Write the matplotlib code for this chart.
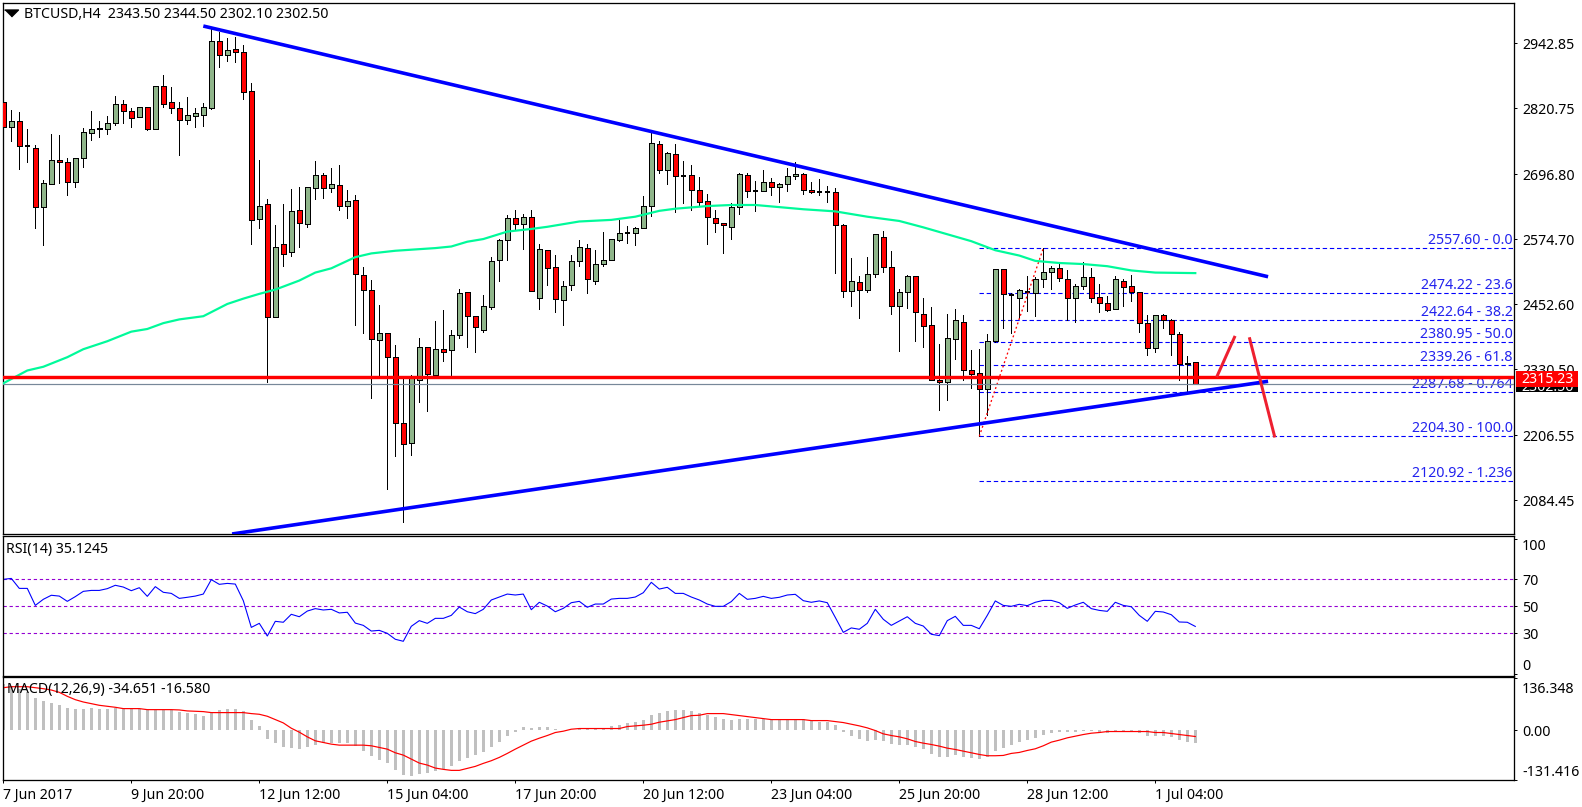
import matplotlib
matplotlib.use("Agg")
import matplotlib.pyplot as plt
from matplotlib.patches import Rectangle
from matplotlib.transforms import ScaledTranslation

plt.rcParams["font.family"] = "Noto Sans"

FONT = 10.2
PX = 0.72  # one pixel in points at dpi 100
WIDTH, HEIGHT = 1582, 807

open_prices = [
    2833, 2786, 2796, 2749, 2747, 2635, 2679, 2723, 2719, 2683,
    2727, 2775, 2782, 2782, 2794, 2828, 2815, 2804, 2823, 2782,
    2862, 2832, 2821, 2799, 2807, 2809, 2822, 2948, 2920, 2932,
    2926, 2853, 2612, 2640, 2428, 2565, 2550, 2629, 2604, 2670,
    2695, 2670, 2676, 2638, 2648, 2507, 2479, 2386, 2398, 2353,
    2229, 2191, 2310, 2373, 2320, 2368, 2366, 2394, 2475, 2430,
    2405, 2448, 2535, 2573, 2614, 2604, 2616, 2464, 2554, 2522,
    2461, 2488, 2533, 2558, 2497, 2529, 2535, 2574, 2587, 2586,
    2595, 2638, 2753, 2705, 2734, 2694, 2695, 2667, 2646, 2614,
    2606, 2597, 2635, 2696, 2666, 2666, 2682, 2672, 2679, 2693,
    2697, 2667, 2663, 2663, 2663, 2601, 2477, 2495, 2480, 2509,
    2578, 2522, 2450, 2475, 2505, 2435, 2413, 2311, 2306, 2388,
    2420, 2328, 2323, 2293, 2383, 2518, 2469, 2465, 2476, 2473,
    2499, 2514, 2520, 2499, 2464, 2486, 2503, 2467, 2454, 2443,
    2497, 2486, 2475, 2417, 2370, 2432, 2422, 2396, 2340, 2343.5,
]
high_prices = [
    2841, 2818, 2813, 2782, 2752, 2686, 2772, 2770, 2727, 2727,
    2783, 2816, 2797, 2806, 2844, 2836, 2822, 2823, 2823, 2862,
    2883, 2861, 2833, 2842, 2821, 2831, 2969, 2965, 2953, 2955,
    2940, 2868, 2724, 2650, 2601, 2641, 2669, 2673, 2672, 2722,
    2700, 2709, 2714, 2667, 2657, 2522, 2498, 2451, 2398, 2376,
    2313, 2320, 2390, 2373, 2421, 2442, 2404, 2481, 2475, 2430,
    2470, 2541, 2575, 2620, 2630, 2623, 2630, 2566, 2554, 2545,
    2496, 2545, 2573, 2565, 2554, 2588, 2576, 2611, 2600, 2597,
    2656, 2776, 2759, 2739, 2754, 2722, 2714, 2692, 2660, 2630,
    2606, 2642, 2699, 2700, 2684, 2705, 2689, 2680, 2708, 2719,
    2700, 2682, 2687, 2674, 2670, 2603, 2539, 2505, 2542, 2584,
    2590, 2552, 2481, 2507, 2506, 2464, 2447, 2378, 2435, 2444,
    2432, 2367, 2368, 2397, 2518, 2518, 2474, 2482, 2506, 2503,
    2558, 2524, 2528, 2516, 2490, 2531, 2520, 2490, 2468, 2505,
    2499, 2507, 2476, 2432, 2432, 2435, 2424, 2400, 2355, 2344.5,
]
low_prices = [
    2753, 2760, 2707, 2719, 2595, 2564, 2679, 2680, 2657, 2672,
    2711, 2761, 2766, 2772, 2790, 2794, 2786, 2804, 2780, 2782,
    2824, 2811, 2732, 2791, 2786, 2788, 2820, 2899, 2910, 2908,
    2838, 2565, 2596, 2307, 2428, 2525, 2543, 2560, 2598, 2650,
    2652, 2663, 2630, 2615, 2414, 2399, 2277, 2320, 2106, 2168,
    2044, 2170, 2269, 2252, 2320, 2345, 2316, 2390, 2373, 2363,
    2401, 2444, 2497, 2536, 2592, 2556, 2478, 2444, 2489, 2437,
    2414, 2479, 2525, 2474, 2491, 2525, 2535, 2572, 2568, 2563,
    2595, 2619, 2700, 2679, 2625, 2643, 2630, 2637, 2566, 2589,
    2549, 2576, 2623, 2654, 2627, 2666, 2658, 2645, 2666, 2687,
    2659, 2662, 2658, 2645, 2511, 2467, 2450, 2427, 2476, 2504,
    2514, 2435, 2365, 2446, 2384, 2373, 2311, 2254, 2273, 2349,
    2311, 2296, 2204, 2244, 2382, 2408, 2399, 2426, 2440, 2431,
    2485, 2481, 2497, 2422, 2420, 2482, 2457, 2437, 2440, 2443,
    2450, 2459, 2401, 2358, 2363, 2407, 2358, 2310, 2288, 2302.1,
]
close_prices = [
    2786, 2796, 2749, 2749, 2636, 2680, 2723, 2719, 2683, 2727,
    2776, 2781, 2783, 2794, 2828, 2816, 2802, 2823, 2782, 2862,
    2829, 2822, 2799, 2808, 2811, 2823, 2948, 2920, 2930, 2926,
    2852, 2610, 2638, 2428, 2560, 2546, 2627, 2606, 2672, 2695,
    2670, 2679, 2638, 2646, 2509, 2480, 2388, 2398, 2354, 2229,
    2189, 2313, 2373, 2321, 2368, 2363, 2394, 2473, 2430, 2410,
    2449, 2533, 2573, 2614, 2604, 2616, 2478, 2556, 2521, 2462,
    2486, 2533, 2561, 2499, 2529, 2535, 2575, 2586, 2587, 2595,
    2638, 2755, 2705, 2736, 2693, 2694, 2667, 2645, 2616, 2606,
    2601, 2635, 2697, 2665, 2666, 2682, 2672, 2679, 2693, 2697,
    2667, 2663, 2663, 2663, 2601, 2477, 2497, 2480, 2509, 2584,
    2522, 2450, 2475, 2505, 2437, 2412, 2311, 2306, 2390, 2422,
    2328, 2322, 2293, 2383, 2518, 2471, 2469, 2480, 2476, 2499,
    2514, 2520, 2501, 2464, 2486, 2503, 2465, 2454, 2442, 2499,
    2484, 2476, 2417, 2370, 2432, 2422, 2396, 2340, 2343, 2302.5,
]

ma_index = [
    0, 3, 5, 8, 10, 13, 16, 18, 20, 22, 24, 25, 28, 30, 32, 34, 37, 39, 41, 43,
    44, 46, 49, 54, 56, 58, 60, 63, 66, 68, 72, 76, 79, 82, 84, 88, 91, 94, 97,
    100, 104, 108, 112, 115, 118, 121, 124, 127, 129, 132, 135, 138, 141, 144, 149,
]
ma_values = [
    2304, 2328, 2335, 2353, 2368, 2383, 2401, 2406, 2417, 2424, 2428, 2430, 2453, 2463, 2472, 2480, 2497, 2512, 2520, 2534,
    2541, 2548, 2553, 2558, 2561, 2570, 2575, 2589, 2594, 2598, 2608, 2611, 2617, 2628, 2632, 2637, 2639, 2639, 2635,
    2631, 2627, 2617, 2609, 2597, 2584, 2571, 2554, 2544, 2534, 2530, 2528, 2524, 2516, 2512, 2511,
]

rsi_values = [
    70.0, 70.7, 63.3, 63.3, 50.7, 55.2, 58.2, 57.6, 53.7, 57.2,
    61.1, 61.8, 61.8, 63.1, 65.6, 64.3, 61.6, 63.8, 57.4, 64.6,
    60.4, 59.6, 55.9, 56.7, 57.6, 59.1, 69.8, 66.3, 67.0, 66.5,
    54.2, 34.4, 37.4, 28.0, 38.9, 38.2, 44.1, 42.3, 46.5, 48.3,
    47.3, 47.8, 45.1, 45.6, 37.6, 35.9, 31.7, 32.2, 30.0, 25.6,
    24.1, 35.2, 39.4, 37.4, 41.1, 41.1, 43.3, 49.5, 46.0, 44.6,
    47.8, 54.7, 56.9, 59.1, 58.4, 59.1, 47.5, 53.0, 50.2, 46.0,
    48.5, 52.7, 53.7, 49.3, 51.7, 51.7, 55.4, 55.9, 55.9, 56.9,
    60.1, 67.8, 62.8, 64.1, 59.6, 59.6, 56.9, 54.7, 51.7, 50.0,
    50.0, 53.5, 59.6, 55.2, 55.9, 57.4, 55.9, 56.7, 58.4, 58.9,
    54.2, 53.0, 54.0, 52.7, 41.8, 30.7, 34.0, 33.0, 37.4, 47.8,
    40.4, 35.9, 39.1, 42.3, 37.4, 35.4, 29.3, 28.3, 39.4, 42.6,
    35.9, 35.9, 33.4, 43.3, 54.0, 50.7, 50.0, 51.5, 50.5, 53.0,
    54.4, 54.4, 52.7, 48.5, 51.0, 53.0, 48.3, 47.0, 46.3, 53.0,
    50.7, 49.7, 43.3, 38.9, 46.3, 45.8, 43.8, 38.4, 38.2, 35.1245,
]

macd_hist = [
    122.3, 115.3, 109.2, 100.4, 85.6, 76.0, 70.7, 65.5, 57.6, 55.0,
    55.0, 57.6, 55.0, 55.0, 58.5, 55.0, 55.0, 55.0, 53.3, 53.3,
    52.4, 53.3, 47.2, 44.5, 41.9, 38.4, 47.2, 52.4, 55.0, 55.0,
    49.8, 26.2, 10.5, -23.6, -34.1, -44.5, -47.2, -49.8, -44.5, -39.3,
    -34.1, -34.1, -34.1, -34.1, -41.9, -54.1, -68.1, -78.6, -86.5, -104.8,
    -118.8, -120.5, -115.3, -112.7, -107.4, -102.2, -94.3, -81.2, -73.4, -65.5,
    -57.6, -44.5, -31.4, -15.7, -5.2, 7.9, 5.2, 7.9, 7.9, 2.6,
    0.0, 0.5, 3.5, 4.4, 4.4, 4.4, 10.5, 13.1, 18.3, 21.0,
    26.2, 39.3, 44.5, 49.8, 52.4, 52.4, 49.8, 44.5, 39.3, 34.1,
    28.8, 26.2, 28.8, 28.8, 28.8, 28.8, 26.2, 26.2, 26.2, 26.2,
    28.8, 23.6, 21.0, 21.0, 13.1, -5.2, -15.7, -23.6, -28.8, -26.2,
    -28.8, -36.7, -39.3, -39.3, -44.5, -49.8, -62.9, -70.7, -70.7, -65.5,
    -70.7, -73.4, -76.0, -70.7, -55.0, -47.2, -39.3, -31.4, -26.2, -21.0,
    -13.1, -7.9, -5.2, -5.2, -3.5, -2.6, -2.6, -6.1, -6.1, -4.4,
    -3.5, -3.5, -7.9, -15.7, -15.7, -15.7, -18.3, -26.2, -31.4, -34.651,
]
macd_signal = [
    111.8, 114.4, 114.4, 114.4, 111.8, 109.2, 105.7, 99.6, 89.1, 80.3,
    74.2, 69.9, 65.5, 62.9, 60.3, 56.8, 56.8, 56.8, 54.1, 54.1,
    54.1, 54.1, 53.3, 50.7, 49.8, 48.9, 46.3, 46.3, 46.3, 46.3,
    46.3, 43.7, 41.9, 36.7, 27.9, 19.2, 5.2, -5.2, -17.5, -27.9,
    -32.3, -36.7, -39.3, -39.3, -39.3, -39.3, -41.0, -45.4, -49.8, -59.4,
    -65.5, -76.0, -86.5, -91.7, -99.6, -103.0, -105.7, -105.7, -100.4, -95.2,
    -87.3, -80.3, -71.6, -61.1, -49.8, -39.3, -28.8, -21.0, -14.0, -6.1,
    -2.6, 2.6, 4.4, 4.4, 4.4, 4.4, 4.4, 4.4, 9.6, 11.4,
    13.1, 15.7, 21.0, 24.5, 27.9, 33.2, 38.4, 39.3, 43.7, 43.7,
    43.7, 41.0, 38.4, 35.8, 33.2, 30.6, 27.9, 27.9, 27.9, 27.9,
    27.9, 25.3, 25.3, 25.3, 22.7, 20.1, 15.7, 11.4, 6.1, -0.9,
    -9.6, -14.0, -17.5, -22.7, -29.7, -34.1, -37.6, -41.9, -47.2, -50.7,
    -55.0, -59.4, -63.8, -67.2, -67.2, -66.4, -61.1, -58.5, -53.3, -48.9,
    -41.0, -31.4, -26.2, -20.1, -15.7, -11.4, -7.9, -6.1, -3.5, -3.5,
    -3.5, -3.5, -3.5, -3.5, -6.1, -6.1, -8.7, -11.4, -14.0, -16.58,
]

price_ticks = [2942.85, 2820.75, 2696.80, 2574.70, 2452.60, 2330.50, 2206.55, 2084.45]
rsi_ticks = [100, 70, 50, 30, 0]
rsi_levels = [70, 50, 30]
macd_ticks = [136.348, 0.0, -131.416]
macd_tick_labels = ["136.348", "0.00", "-131.416"]

time_ticks = [0, 16, 32, 48, 64, 80, 96, 112, 128, 144]
time_labels = [
    "7 Jun 2017", "9 Jun 20:00", "12 Jun 12:00", "15 Jun 04:00", "17 Jun 20:00",
    "20 Jun 12:00", "23 Jun 04:00", "25 Jun 20:00", "28 Jun 12:00", "1 Jul 04:00",
]

fib_prices = [2557.60, 2474.22, 2422.64, 2380.95, 2339.26, 2287.68, 2204.30, 2120.92]
fib_names = ["0.0", "23.6", "38.2", "50.0", "61.8", "0.764", "100.0", "1.236"]
fib_x = [122, 130]
fib_y = [2204.30, 2557.60]

upper_trend_x, upper_trend_y = [25, 158.1], [2975.3, 2504.2]
lower_trend_x, lower_trend_y = [28.6, 158.1], [2020.8, 2307.7]
arrow_up_x, arrow_up_y = [151.75, 153.9], [2318.2, 2390.4]
arrow_down_x, arrow_down_y = [155.8, 158.9], [2387.7, 2204.9]

support_price = 2315.23
last_price = 2302.50

XLIM = (-0.1, 188.84)
UP_COLOR = "#8FB58A"
DOWN_COLOR = "#FF0000"
BLUE = "#0000FF"


def panel(fig, top, bottom, left=2.5, right=1514):
    """Axes placed by pixel edges, counted from the top left of the image."""
    ax = fig.add_axes([left / WIDTH, 1 - bottom / HEIGHT, (right - left) / WIDTH, (bottom - top) / HEIGHT])
    ax.set_xlim(*XLIM)
    ax.set_xticks([])
    ax.yaxis.tick_right()
    ax.tick_params(axis="y", length=2.2, width=PX, pad=3.5, labelsize=FONT)
    for spine in ax.spines.values():
        spine.set_linewidth(1.3 * PX)
    return ax


def draw_candles(ax):
    xs = range(len(open_prices))
    ax.vlines(xs, low_prices, high_prices, color="black", lw=PX, antialiased=False, zorder=2)
    for i in xs:
        o, c = open_prices[i], close_prices[i]
        color = UP_COLOR if c >= o else DOWN_COLOR
        edge = 2 * PX if abs(c - o) < 1 else PX
        ax.add_patch(Rectangle((i - 0.28, min(o, c)), 0.56, abs(c - o), facecolor=color,
                               edgecolor="black", lw=edge, antialiased=False, zorder=3))


fig = plt.figure(figsize=(WIDTH / 100, HEIGHT / 100), dpi=100, facecolor="white")

# main chart
ax = panel(fig, 2.5, 534.3)
ax.set_ylim(2020.2, 3019.5)

ax.hlines(fib_prices, fib_x[0], XLIM[1], color=BLUE, lw=1.1 * PX, linestyles=(0, (4, 2.5)), zorder=1)
for price, name in zip(fib_prices, fib_names):
    ax.text(XLIM[1] - 0.15, price, f"{price:.2f} - {name}", color="#2222EE", ha="right", va="bottom", fontsize=FONT)
ax.plot(fib_x, fib_y, color="red", lw=1.3 * PX, ls=(0, (1.5, 2)), zorder=4)

draw_candles(ax)

ax.plot(ma_index, ma_values, color="#00FA9A", lw=2.2 * PX, zorder=5)
ax.axhline(last_price, color="#778899", lw=1.2 * PX, zorder=4)
ax.axhline(support_price, color="red", lw=3.4 * PX, zorder=6)
ax.plot(upper_trend_x, upper_trend_y, color=BLUE, lw=3.6 * PX, zorder=7, solid_capstyle="butt")
ax.plot(lower_trend_x, lower_trend_y, color=BLUE, lw=3.6 * PX, zorder=7, solid_capstyle="butt")
ax.plot(arrow_up_x, arrow_up_y, color="#EE2030", lw=3 * PX, zorder=8)
ax.plot(arrow_down_x, arrow_down_y, color="#EE2030", lw=3 * PX, zorder=8)

ax.set_yticks(price_ticks)
ax.set_yticklabels([f"{t:.2f}" for t in price_ticks])

# price tags over the axis labels
ax.add_patch(Rectangle((189.1, 2287), 7.7, 28.8, facecolor="black", clip_on=False, zorder=9))
ax.text(193, last_price - 6, f"{last_price:.2f}", color="white", ha="center", va="center",
        fontsize=FONT, clip_on=False, zorder=10)
ax.add_patch(Rectangle((189.1, 2297.6), 7.7, 29.4, facecolor="red", clip_on=False, zorder=11))
ax.text(193, support_price - 5, f"{support_price:.2f}", color="white", ha="center", va="center",
        fontsize=FONT, clip_on=False, zorder=12)

ax.plot([0.0058], [0.9799], marker=[(-1, 0.5), (1, 0.5), (0, -0.5)], color="black", ms=10,
        transform=ax.transAxes, clip_on=False)
ax.annotate("BTCUSD,H4  2343.50 2344.50 2302.10 2302.50", xy=(21.8 / 1511.5, 1), xycoords="axes fraction",
            xytext=(0, -11.5 * PX), textcoords="offset points", va="center", ha="left", fontsize=FONT)

# RSI panel
rsi_ax = panel(fig, 536.3, 675.7)
rsi_ax.set_ylim(-1.4, 101.9)
rsi_ax.hlines(rsi_levels, *XLIM, color="#9400D3", lw=1.1 * PX, linestyles=(0, (3, 2.5)))
rsi_ax.plot(range(len(rsi_values)), rsi_values, color=BLUE, lw=1.1 * PX)
rsi_ax.set_yticks(rsi_ticks)
rsi_labels = rsi_ax.set_yticklabels([str(t) for t in rsi_ticks])
rsi_labels[0].set_va("top")
rsi_labels[-1].set_va("bottom")
rsi_ax.annotate("RSI(14) 35.1245", xy=(3.8 / 1511.5, 1), xycoords="axes fraction",
                xytext=(0, -12.7 * PX), textcoords="offset points", va="center", ha="left", fontsize=FONT)

# MACD panel
macd_ax = panel(fig, 677.4, 780.3)
macd_ax.set_ylim(-131.8, 138.9)
macd_ax.bar(range(len(macd_hist)), macd_hist, width=0.42, color="#C0C0C0", antialiased=False)
macd_ax.plot(range(len(macd_signal)), macd_signal, color="red", lw=1.2 * PX)
macd_ax.set_yticks(macd_ticks)
macd_labels = macd_ax.set_yticklabels(macd_tick_labels)
macd_labels[0].set_va("top")
macd_labels[0].set_transform(macd_labels[0].get_transform() + ScaledTranslation(0, -4 / 100, fig.dpi_scale_trans))
macd_labels[-1].set_va("bottom")
macd_ax.annotate("MACD(12,26,9) -34.651 -16.580", xy=(4.8 / 1511.5, 1), xycoords="axes fraction",
                 xytext=(0, -12.6 * PX), textcoords="offset points", va="center", ha="left", fontsize=FONT)

macd_ax.set_xticks(time_ticks)
macd_ax.set_xticklabels(time_labels, ha="left", fontsize=FONT)
macd_ax.tick_params(axis="x", length=2.2, width=PX, pad=3.5)

fig.savefig("out.png", dpi=100)
